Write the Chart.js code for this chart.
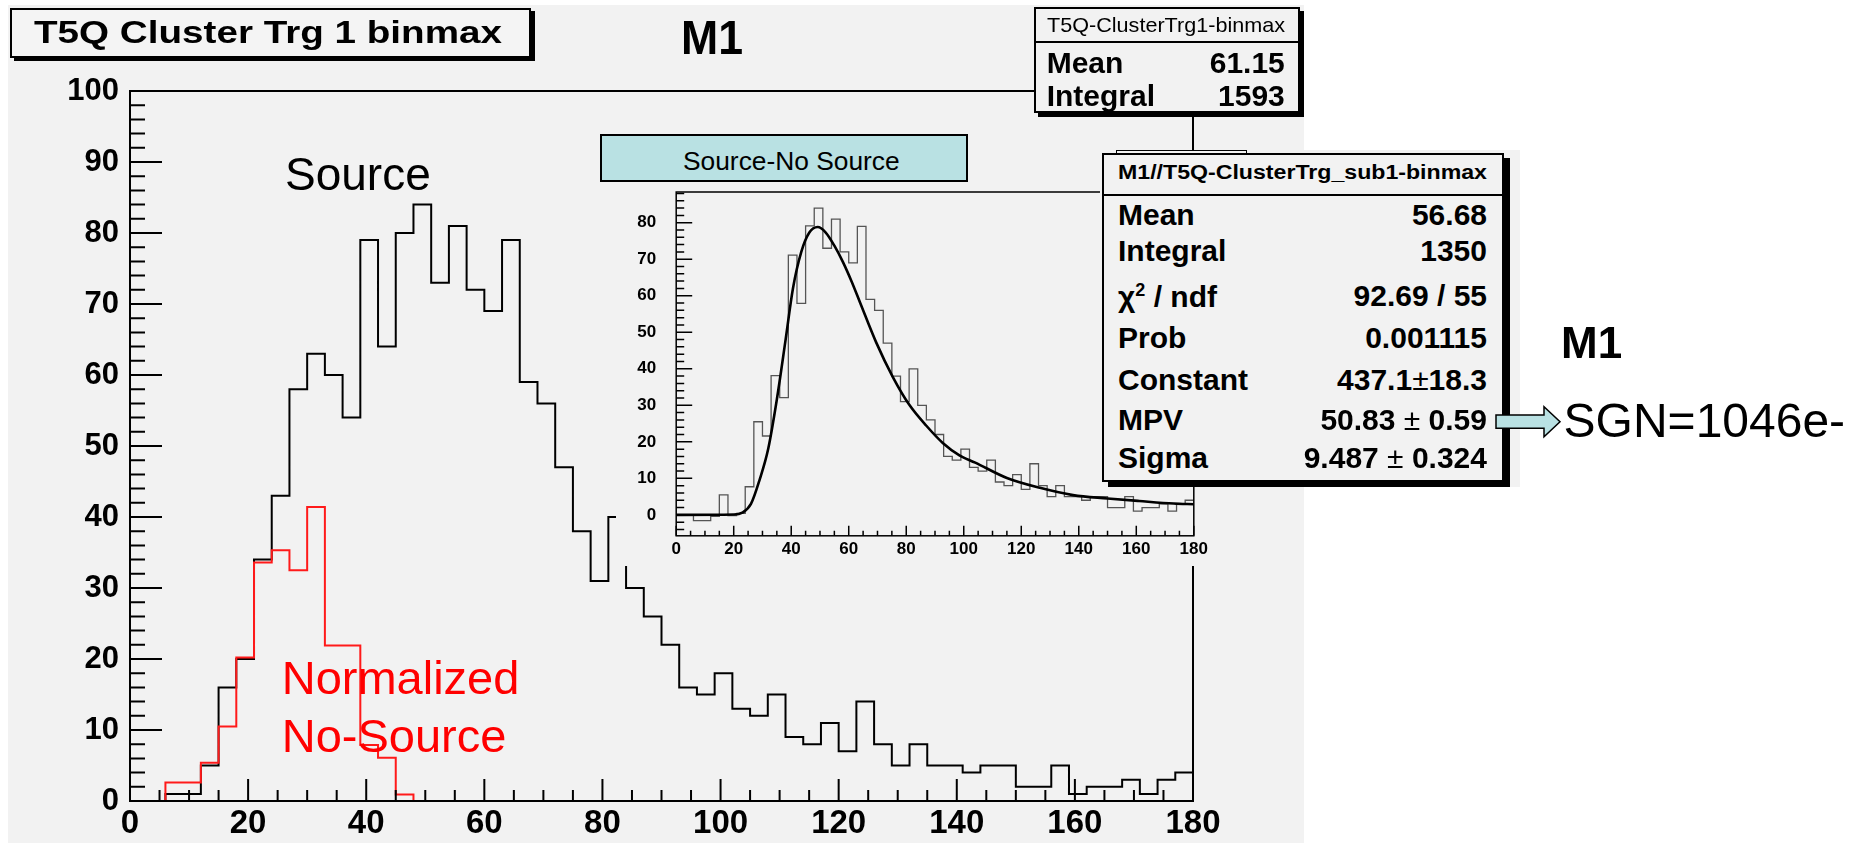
<!DOCTYPE html>
<html>
<head>
<meta charset="utf-8">
<script src="https://cdn.jsdelivr.net/npm/chart.js@4.4.1/dist/chart.umd.min.js"></script>
<style>
  html, body { margin: 0; padding: 0; background: #fff; }
  #page { position: relative; width: 1862px; height: 843px; overflow: hidden; font-family: "Liberation Sans", Arial, sans-serif; color: #000; }
  .abs { position: absolute; box-sizing: border-box; }
  .box { position: absolute; box-sizing: border-box; border: 2px solid #000; background: #f2f2f2; }
  .t { position: absolute; white-space: nowrap; line-height: 1; }
  .pm { font-weight: normal; }
</style>
</head>
<body>
<div id="page">
  <div class="abs" style="left:8px;top:5px;width:1296px;height:838px;background:#f2f2f2;"></div>
  <canvas id="main" class="abs" width="1862" height="843" style="left:0;top:0;"></canvas>
  <canvas id="inset" class="abs" width="600" height="416" style="left:616px;top:150px;background:#f2f2f2;"></canvas>

  <div class="box" style="left:10px;top:8px;width:521px;height:50px;background:#f4f4f4;box-shadow:4px 3px 0 #000;"></div>
  <div class="box" style="left:1034px;top:7px;width:266px;height:106px;box-shadow:4px 4px 0 #000;"></div>
  <div class="abs" style="left:1034px;top:40.7px;width:266px;height:2px;background:#000;"></div>
  <div class="abs" style="left:1100px;top:150px;width:420px;height:337px;background:#f2f2f2;"></div>
  <div class="abs" style="left:1116px;top:150px;width:131px;height:10px;border:1.5px solid #000;border-bottom:none;"></div>
  <div class="box" style="left:1102px;top:153px;width:402px;height:329px;box-shadow:6px 5px 0 #000;"></div>
  <div class="abs" style="left:1102px;top:194px;width:402px;height:2px;background:#000;"></div>
  <div class="box" style="left:600px;top:134px;width:368px;height:48px;background:#b9e1e3;"></div>

  <svg class="abs" style="left:1490px;top:400px;" width="80" height="45">
    <polygon points="6,15 54,15 54,6.7 70,21.7 54,36.7 54,28.3 6,28.3" fill="#b9e1e3" stroke="#000" stroke-width="1.5"/>
  </svg>
</div>

<script>
// bins of 3 units from 0 to 180
const binWidth = 3;
const mainXTicks = [0, 20, 40, 60, 80, 100, 120, 140, 160, 180];
const mainYTicks = [0, 10, 20, 30, 40, 50, 60, 70, 80, 90, 100];
const insetXTicks = [0, 20, 40, 60, 80, 100, 120, 140, 160, 180];
const insetYTicks = [0, 10, 20, 30, 40, 50, 60, 70, 80];

// source histogram (black)
const source = [0, 0, 1, 1, 5, 16, 20, 34, 43, 58, 63, 60, 54, 79, 64, 80, 84, 73, 81, 72,
  69, 79, 59, 56, 47, 38, 31, 40, 30, 26, 22, 16, 15, 18, 13, 12, 15, 9, 8, 11,
  7, 14, 8, 5, 8, 5, 5, 4, 5, 5, 2, 2, 5, 1, 2, 2, 3, 1, 3, 4];
// normalized no-source (red)
const noSource = [0, 0, 2.6, 2.6, 5.4, 10.5, 20.2, 33.6, 35.3, 32.5, 41.4, 21.9, 21.9, 7.9, 6.1, 0.9,
  0, 0, 0, 0, 0, 0, 0, 0, 0, 0, 0, 0, 0, 0, 0, 0, 0, 0, 0, 0, 0, 0, 0, 0,
  0, 0, 0, 0, 0, 0, 0, 0, 0, 0, 0, 0, 0, 0, 0, 0, 0, 0, 0, 0];
// source - no source (inset)
const subtracted = [0, 0, -1.6, -1.6, -0.4, 5.5, -0.2, 0.4, 7.7, 25.5, 21.6, 38.1, 32.1, 71.1, 57.9, 79.1, 84, 73, 81, 72,
  69, 79, 59, 56, 47, 38, 31, 40, 30, 26, 22, 16, 15, 18, 13, 12, 15, 9, 8, 11,
  7, 14, 8, 5, 8, 5, 5, 4, 5, 5, 2, 2, 5, 1, 2, 2, 3, 1, 3, 4];
// landau fit curve
const fitX = [0, 20, 23, 26, 29, 32, 35, 38, 40.6, 43.5, 46.3, 49.2, 52, 55, 58, 61, 64, 69.5, 75.3, 81, 87, 92.7, 98.5, 104, 115, 126.5, 138, 150, 161, 173, 180];
const fitY = [0, 0.1, 0.6, 3, 9.6, 18.1, 31.6, 47.7, 62, 72, 77.3, 78.8, 77.3, 73.7, 69.2, 63.9, 58, 47.3, 37.8, 30.2, 24.4, 19.7, 16.3, 14.3, 10.1, 7.4, 5.4, 4.5, 3.8, 3.1, 2.9];

function histPoints(vals) {
  const pts = vals.map((v, i) => ({ x: i * binWidth, y: v }));
  pts.push({ x: vals.length * binWidth, y: vals[vals.length - 1] });
  return pts;
}

// ROOT style frame + inward ticks
const rootAxes = {
  id: 'rootAxes',
  afterDatasetsDraw(chart, args, o) {
    const { ctx, chartArea: a, scales: { x, y } } = chart;
    const xMaj = x.ticks.map(t => t.value), yMaj = y.ticks.map(t => t.value);
    ctx.save();
    ctx.strokeStyle = '#000';
    ctx.lineWidth = o.lw;
    ctx.strokeRect(a.left, a.top, a.right - a.left, a.bottom - a.top);
    ctx.beginPath();
    for (let v = Math.ceil(x.min / o.xMinor) * o.xMinor; v <= x.max + 1e-6; v += o.xMinor) {
      const len = xMaj.some(m => Math.abs(m - v) < 1e-6) ? o.xMajorLen : o.xMinorLen;
      const px = x.getPixelForValue(v);
      ctx.moveTo(px, a.bottom);
      ctx.lineTo(px, a.bottom - len);
    }
    for (let v = Math.ceil(y.min / o.yMinor) * o.yMinor; v <= y.max + 1e-6; v += o.yMinor) {
      const len = yMaj.some(m => Math.abs(m - v) < 1e-6) ? o.yMajorLen : o.yMinorLen;
      const py = y.getPixelForValue(v);
      ctx.moveTo(a.left, py);
      ctx.lineTo(a.left + len, py);
    }
    ctx.stroke();
    ctx.restore();
  }
};

new Chart(document.getElementById('main'), {
  type: 'line',
  data: {
    datasets: [{
      label: 'Normalized No-Source',
      data: histPoints(noSource),
      borderColor: '#ff1a1a',
      borderWidth: 2,
      stepped: true,
      pointRadius: 0
    }, {
      label: 'Source',
      data: histPoints(source),
      borderColor: '#000',
      borderWidth: 2,
      stepped: true,
      pointRadius: 0
    }]
  },
  options: {
    responsive: false,
    animation: false,
    events: [],
    layout: { padding: { left: 0, top: 91, right: 669, bottom: 0 } },
    plugins: {
      legend: { display: false },
      tooltip: { enabled: false },
      rootAxes: { lw: 2, xMinor: 5, yMinor: 2, xMajorLen: 22, xMinorLen: 11, yMajorLen: 32, yMinorLen: 15 }
    },
    scales: {
      x: {
        type: 'linear', min: 0, max: 180,
        afterBuildTicks: s => { s.ticks = mainXTicks.map(v => ({ value: v })); },
        afterFit: s => { s.height = 42; },
        grid: { display: false, drawTicks: false },
        border: { display: false },
        ticks: { color: '#000', padding: 3, maxRotation: 0, autoSkip: false,
          font: { family: 'Liberation Sans', weight: 'bold', size: 33 } }
      },
      y: {
        type: 'linear', min: 0, max: 100,
        afterBuildTicks: s => { s.ticks = mainYTicks.map(v => ({ value: v })); },
        afterFit: s => { s.width = 130; },
        grid: { display: false, drawTicks: false },
        border: { display: false },
        ticks: { color: '#000', padding: 11, autoSkip: false,
          font: { family: 'Liberation Sans', weight: 'bold', size: 31 } }
      }
    }
  },
  plugins: [rootAxes]
});

const insetFont = { family: 'Liberation Sans', weight: 'bold', size: 17 };
new Chart(document.getElementById('inset'), {
  type: 'line',
  data: {
    datasets: [{
      label: 'fit',
      data: fitX.map((x, i) => ({ x: x, y: fitY[i] })),
      borderColor: '#000',
      borderWidth: 2.6,
      cubicInterpolationMode: 'monotone',
      pointRadius: 0
    }, {
      label: 'Source-No Source',
      data: histPoints(subtracted),
      borderColor: '#555',
      borderWidth: 1.3,
      stepped: true,
      pointRadius: 0
    }]
  },
  options: {
    responsive: false,
    animation: false,
    events: [],
    layout: { padding: { left: 0, top: 42, right: 22.2, bottom: 0 } },
    plugins: {
      legend: { display: false },
      tooltip: { enabled: false },
      rootAxes: { lw: 1.5, xMinor: 5, yMinor: 2, xMajorLen: 10, xMinorLen: 5, yMajorLen: 16, yMinorLen: 8 }
    },
    scales: {
      x: {
        type: 'linear', min: 0, max: 180,
        afterBuildTicks: s => { s.ticks = insetXTicks.map(v => ({ value: v })); },
        afterFit: s => { s.height = 24; },
        grid: { display: false, drawTicks: false },
        border: { display: false },
        ticks: { color: '#000', padding: 3, maxRotation: 0, autoSkip: false, font: insetFont }
      },
      y: {
        type: 'linear', min: -5.73, max: 88.4,
        afterBuildTicks: s => { s.ticks = insetYTicks.map(v => ({ value: v })); },
        afterFit: s => { s.width = 60.2; },
        grid: { display: false, drawTicks: false },
        border: { display: false },
        ticks: { color: '#000', padding: 20, autoSkip: false, font: insetFont }
      }
    }
  },
  plugins: [rootAxes]
});

// texts
const page = document.getElementById('page');
function label(html, x, base, size, o = {}) {
  const el = document.createElement('div');
  el.className = 't';
  el.innerHTML = html;
  el.style.fontSize = size + 'px';
  el.style.top = (base - 0.8465 * size) + 'px';
  if (o.bold) el.style.fontWeight = 'bold';
  if (o.color) el.style.color = o.color;
  if (o.right) el.style.right = (1862 - x) + 'px';
  else el.style.left = x + 'px';
  page.appendChild(el);
  if (o.w) {
    const w = el.getBoundingClientRect().width;
    el.style.transformOrigin = o.right ? 'right' : 'left';
    el.style.transform = 'scaleX(' + (o.w / w) + ')';
  }
  return el;
}

label('T5Q Cluster Trg 1 binmax', 34, 43, 32, { bold: true, w: 468 });
label('M1', 681, 55, 48, { bold: true, w: 62 });

label('T5Q-ClusterTrg1-binmax', 1046.7, 31.7, 21, { w: 238 });
label('Mean', 1046.7, 73.3, 30, { bold: true });
label('61.15', 1284.8, 73.3, 30, { bold: true, right: true });
label('Integral', 1046.7, 106.5, 30, { bold: true });
label('1593', 1284.8, 106.5, 30, { bold: true, right: true });

label('M1//T5Q-ClusterTrg_sub1-binmax', 1118, 179, 20, { bold: true, w: 369 });
const statRows = [
  ['Mean', '56.68', 225],
  ['Integral', '1350', 261.7],
  ['&chi;<sup style="font-size:60%;vertical-align:0.6em">2</sup> / ndf', '92.69 / 55', 306.7],
  ['Prob', '0.001115', 348.3],
  ['Constant', '437.1<span class="pm">&plusmn;</span>18.3', 390],
  ['MPV', '50.83 <span class="pm">&plusmn;</span> 0.59', 430],
  ['Sigma', '9.487 <span class="pm">&plusmn;</span> 0.324', 468.3]
];
statRows.forEach(r => {
  label(r[0], 1118, r[2], 30, { bold: true });
  label(r[1], 1487, r[2], 30, { bold: true, right: true });
});

label('Source-No Source', 683, 170, 26, { w: 216.7 });
label('Source', 285, 190, 46);
label('Normalized', 281.7, 693.3, 47, { color: '#ff0000' });
label('No-Source', 281.7, 751.7, 47, { color: '#ff0000' });
label('M1', 1561, 358, 44, { bold: true });
label('SGN=1046e-', 1563.6, 438, 48);
</script>
</body>
</html>
